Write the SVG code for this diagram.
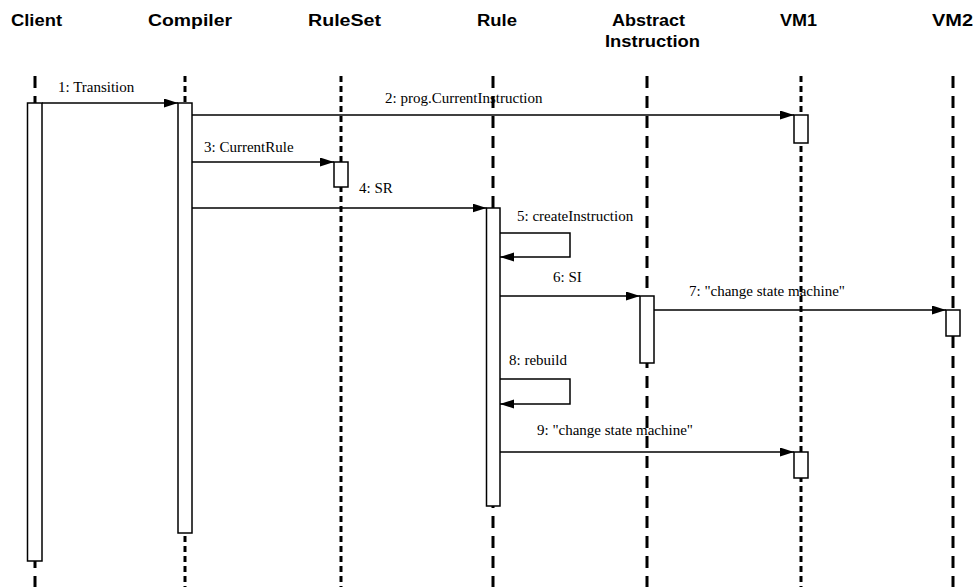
<svg xmlns="http://www.w3.org/2000/svg" width="978" height="587" viewBox="0 0 978 587">
<style>
.hdr{font-family:"Liberation Sans",Arial,sans-serif;font-weight:bold;font-size:16px;fill:#000}
.lbl{font-family:"Liberation Serif","Times New Roman",serif;font-size:15px;fill:#000}
.ll{stroke:#000;stroke-width:3;fill:none}
.short{stroke-dasharray:6 4}
.long{stroke-dasharray:12 8}
.act{fill:#fff;stroke:#000;stroke-width:1.5}
.msg{fill:none;stroke:#000;stroke-width:1.5;marker-end:url(#arr)}
</style>
<defs>
<marker id="arr" markerUnits="userSpaceOnUse" markerWidth="15" markerHeight="10" refX="14" refY="4.5" orient="auto">
<path d="M0,0 L14,4.5 L0,9 z" fill="#000"/>
</marker>
</defs>
<rect width="978" height="587" fill="#fff"/>
<g id="lifelines">
<line class="ll long" x1="35" y1="76" x2="35" y2="587"/>
<line class="ll short" x1="185" y1="76" x2="185" y2="587"/>
<line class="ll short" x1="341" y1="76" x2="341" y2="587"/>
<line class="ll long" x1="493" y1="76" x2="493" y2="587"/>
<line class="ll long" x1="647" y1="76" x2="647" y2="587"/>
<line class="ll short" x1="801" y1="76" x2="801" y2="587"/>
<line class="ll long" x1="953" y1="76" x2="953" y2="587"/>
</g>
<g id="client">
<text class="hdr" x="11" y="26" textLength="51" lengthAdjust="spacingAndGlyphs">Client</text>
<rect class="act" x="27.5" y="103" width="14.5" height="458"/>
</g>
<g id="compiler">
<text class="hdr" x="148" y="26" textLength="84" lengthAdjust="spacingAndGlyphs">Compiler</text>
<rect class="act" x="178" y="103" width="14" height="430"/>
</g>
<g id="ruleset">
<text class="hdr" x="308" y="26" textLength="73" lengthAdjust="spacingAndGlyphs">RuleSet</text>
<rect class="act" x="334" y="162" width="14" height="25"/>
</g>
<g id="rule">
<text class="hdr" x="477" y="26" textLength="40" lengthAdjust="spacingAndGlyphs">Rule</text>
<rect class="act" x="486.5" y="208" width="13.5" height="298"/>
</g>
<g id="abstract">
<text class="hdr" x="612" y="26" textLength="73" lengthAdjust="spacingAndGlyphs">Abstract</text>
<text class="hdr" x="605" y="47" textLength="95" lengthAdjust="spacingAndGlyphs">Instruction</text>
<rect class="act" x="640" y="296" width="14" height="67"/>
</g>
<g id="vm1">
<text class="hdr" x="780" y="26" textLength="37" lengthAdjust="spacingAndGlyphs">VM1</text>
<rect class="act" x="794" y="115" width="14" height="28"/>
<rect class="act" x="794" y="452" width="14" height="26"/>
</g>
<g id="vm2">
<text class="hdr" x="932" y="26" textLength="41" lengthAdjust="spacingAndGlyphs">VM2</text>
<rect class="act" x="946" y="310" width="14" height="26"/>
</g>
<g id="connectors">
<path class="msg" d="M42,103 H178"/>
<path class="msg" d="M192,115 H794"/>
<path class="msg" d="M192,162 H334"/>
<path class="msg" d="M192,208 H486.5"/>
<path class="msg" d="M500,233 H570 V257 H500"/>
<path class="msg" d="M500,296 H640"/>
<path class="msg" d="M654,310 H946"/>
<path class="msg" d="M500,379 H570 V404 H500"/>
<path class="msg" d="M500,452 H794"/>
<text class="lbl" x="58" y="92">1: Transition</text>
<text class="lbl" x="385" y="103">2: prog.CurrentInstruction</text>
<text class="lbl" x="204" y="152">3: CurrentRule</text>
<text class="lbl" x="359" y="193">4: SR</text>
<text class="lbl" x="517" y="221">5: createInstruction</text>
<text class="lbl" x="553" y="282">6: SI</text>
<text class="lbl" x="689" y="296">7: "change state machine"</text>
<text class="lbl" x="509" y="365">8: rebuild</text>
<text class="lbl" x="537" y="435">9: "change state machine"</text>
</g>
</svg>
